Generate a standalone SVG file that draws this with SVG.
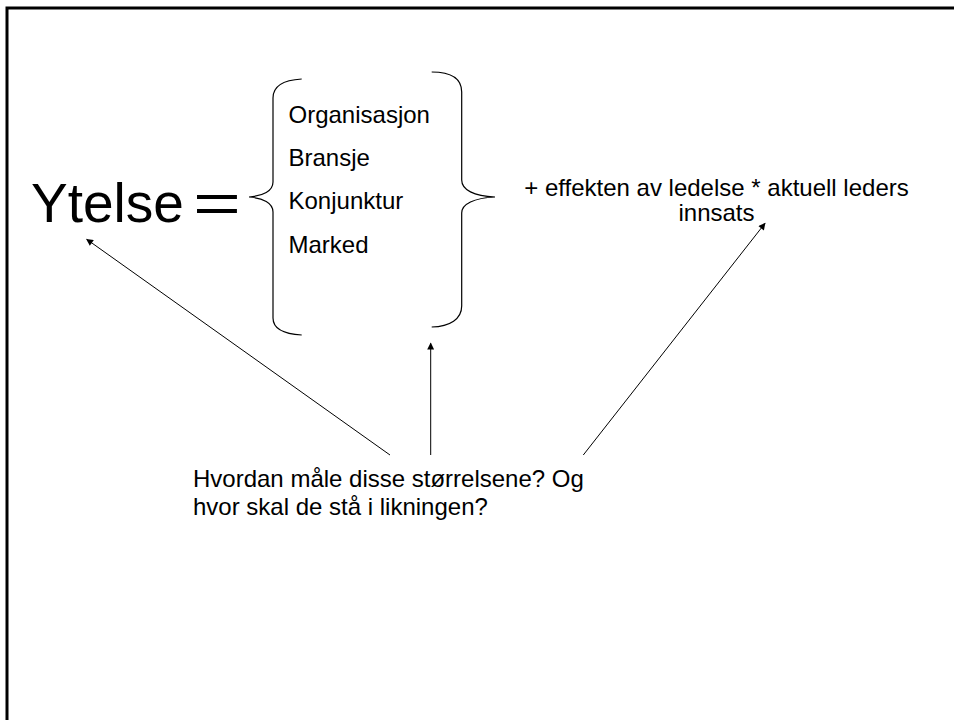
<svg xmlns="http://www.w3.org/2000/svg" width="954" height="720" viewBox="0 0 954 720">
<style>
  text { font-family: "Liberation Sans", Arial, sans-serif; fill: #000; }
  .t { font-size: 24px; }
  .big { font-size: 55px; }
  .brace { fill: none; stroke: #000; stroke-width: 1.2; }
  .conn { stroke: #000; stroke-width: 1; fill: none; }
</style>
<defs>
  <marker id="ah" viewBox="0 0 10 10" refX="9" refY="5" markerWidth="9" markerHeight="7" markerUnits="userSpaceOnUse" orient="auto">
    <path d="M0,0 L10,5 L0,10 z" fill="#000"/>
  </marker>
</defs>
<rect x="0" y="0" width="954" height="720" fill="#fff"/>
<path d="M7,720 L7,8 L954,8" fill="none" stroke="#000" stroke-width="3"/>

<g id="ytelse">
  <text class="big" x="31" y="222">Ytelse</text>
  <text class="big" x="193" y="222" textLength="48" lengthAdjust="spacingAndGlyphs">=</text>
</g>

<g id="brace-left">
  <path class="brace" d="M301.7,79 C284,80 273,86 273,98 L273,182 C273,191 263,196 249,197 C263,198 273,203 273,212 L273,318 C273,329 284,334 301.7,335"/>
</g>

<g id="factors">
  <text class="t" x="288.5" y="123">Organisasjon</text>
  <text class="t" x="288.5" y="166.3">Bransje</text>
  <text class="t" x="288.5" y="209.3">Konjunktur</text>
  <text class="t" x="288.5" y="253">Marked</text>
</g>

<g id="brace-right">
  <path class="brace" d="M431.7,72 C450,72 461.7,78 461.7,92 L461.7,180 C461.7,190 474,196 495,197 C474,198 461.7,204 461.7,213 L461.7,306 C461.7,319 450,326.5 431.7,327"/>
</g>

<g id="effekt">
  <text class="t" x="716.5" y="195.5" text-anchor="middle">+ effekten av ledelse * aktuell leders</text>
  <text class="t" x="716.5" y="220.5" text-anchor="middle">innsats</text>
</g>

<g id="question">
  <text class="t" x="193" y="486.5">Hvordan måle disse størrelsene? Og</text>
  <text class="t" x="193" y="514.5">hvor skal de stå i likningen?</text>
</g>

<g id="connectors">
  <line class="conn" x1="390" y1="455" x2="86.7" y2="239.3" marker-end="url(#ah)"/>
  <line class="conn" x1="430.7" y1="455" x2="430.7" y2="343.3" stroke-width="1.5" marker-end="url(#ah)"/>
  <line class="conn" x1="583.3" y1="455" x2="765" y2="223.3" marker-end="url(#ah)"/>
</g>
</svg>
